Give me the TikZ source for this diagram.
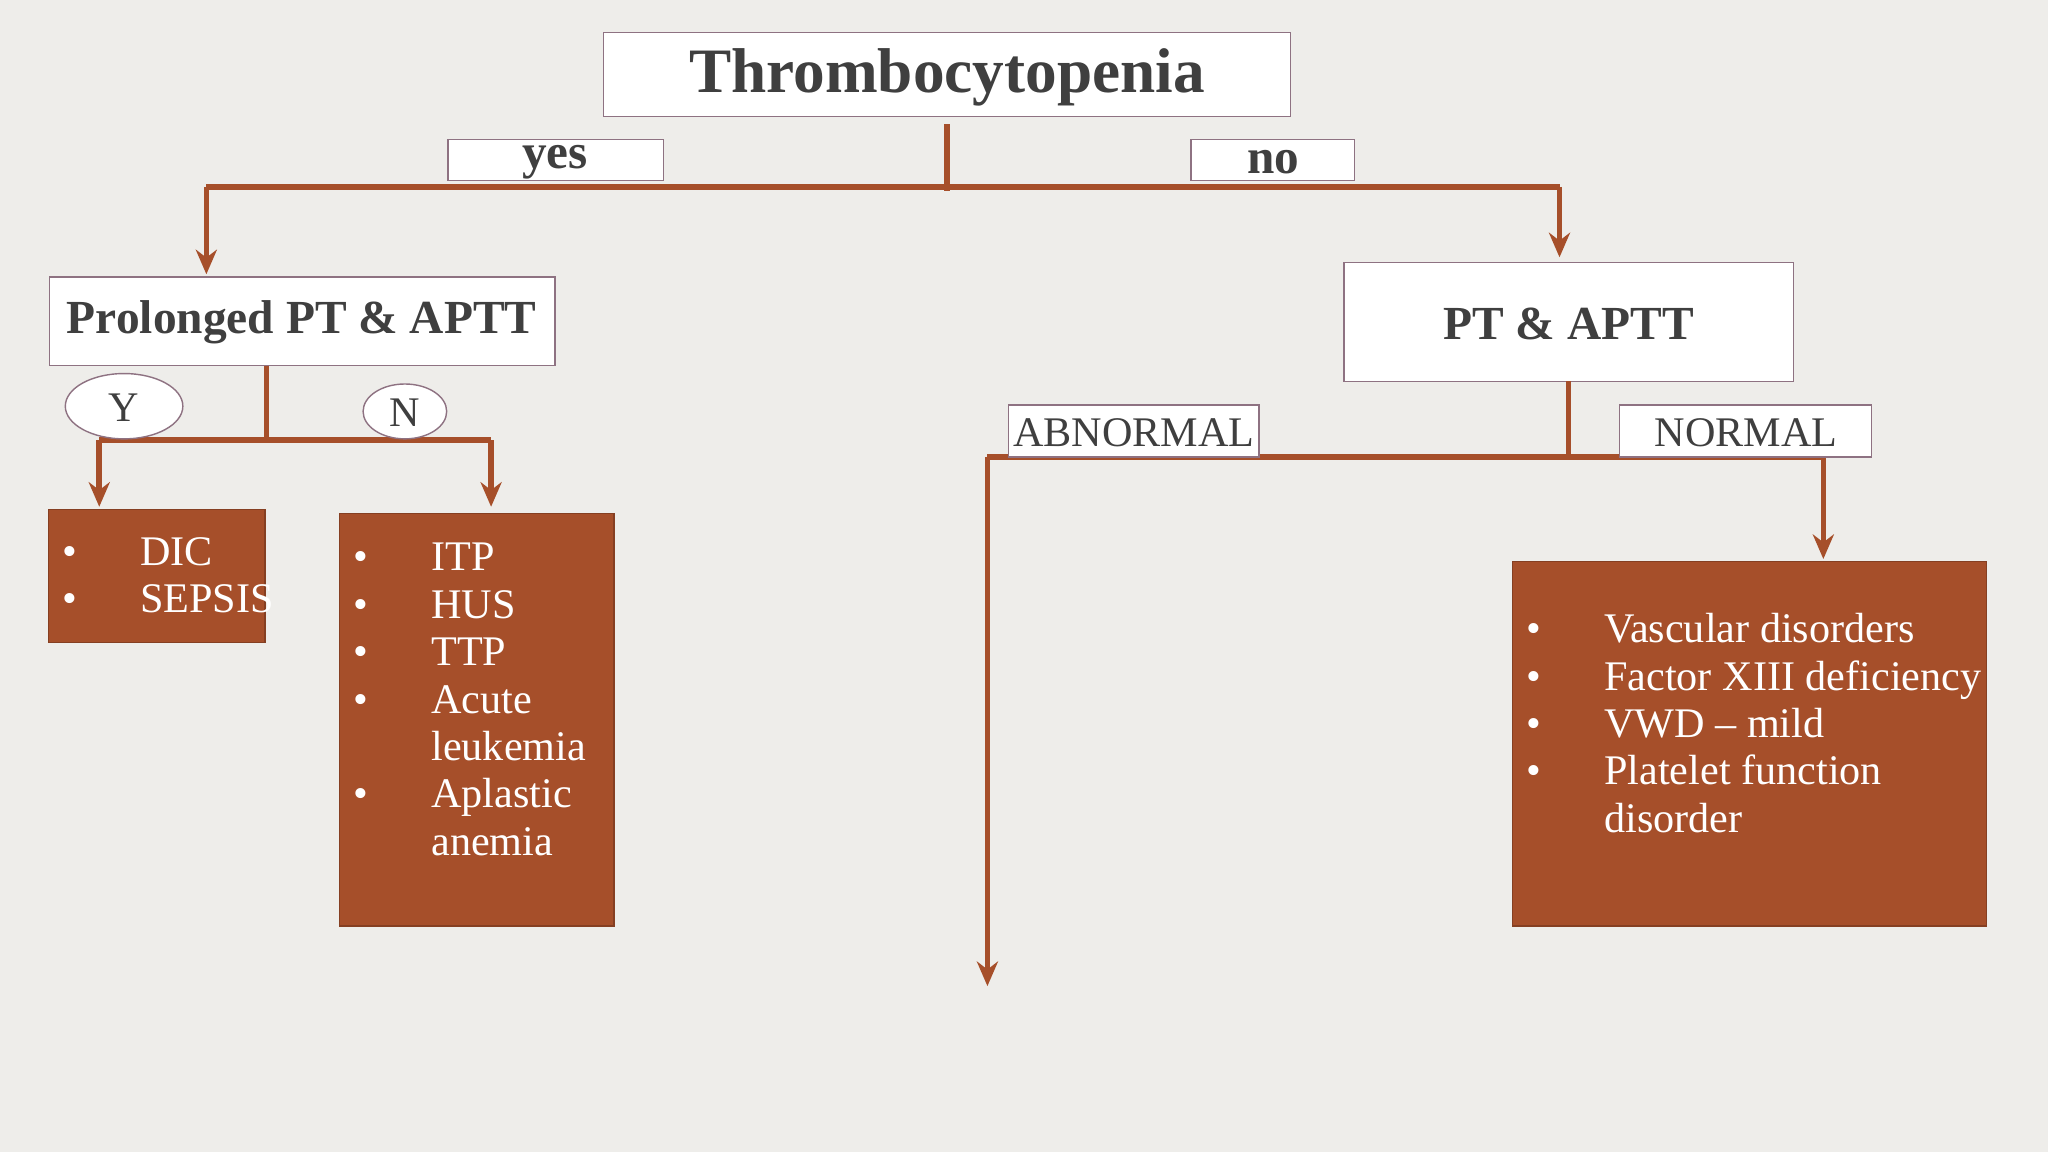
\documentclass[tikz,border=0pt]{standalone}
\usepackage{fontspec}
\setmainfont{Liberation Serif}
\usepackage{xcolor}
\usetikzlibrary{arrows.meta}
\definecolor{rust}{HTML}{A64F2A}
\definecolor{paper}{HTML}{EEEDEA}
\definecolor{frame}{HTML}{8E7282}
\definecolor{ink}{HTML}{3F3F3F}
\tikzset{
  fillbox/.style={draw=rust!80!black, fill=rust, rectangle},
  list/.style={text=white, anchor=north west, inner sep=0pt, font=\fontsize{12}{13.5}\selectfont},
  link/.style={draw=rust, line width=1.6pt},
  arr/.style={link, -{Stealth[length=7pt,width=6pt]}}
}
\newcommand{\bul}{\textbullet}
\begin{document}
\begin{tikzpicture}[x=0.013061cm, y=-0.013061cm]
    \fill[paper] (0,0) rectangle (1568,882);
    % Top
    \draw[frame, fill=white] (462,25) rectangle (988,89);
    \node[text=ink, font=\bfseries\fontsize{18}{20}\selectfont] (ttext) at (725,59) {Thrombocytopenia};
    \draw[frame, fill=white] (343,107) rectangle (508,138);
    \node[text=ink, font=\bfseries\fontsize{14}{16}\selectfont] (yes) at (425,124) {yes};
    \draw[frame, fill=white] (912,107) rectangle (1037,138);
    \node[text=ink, font=\bfseries\fontsize{14}{16}\selectfont] (no) at (975,124) {no};
    \coordinate (top) at (725,95);
    \coordinate (split) at (725,146);
    \coordinate (ltop) at (158,143);
    \coordinate (rtop) at (1194,143);
    % Level 2
    \draw[frame, fill=white] (38,212) rectangle (425,280);
    \node[text=ink, font=\bfseries\fontsize{13.5}{16}\selectfont] (prol) at (231,247) {Prolonged PT \& APTT};
    \draw[frame, fill=white] (1029,201) rectangle (1373,292);
    \node[text=ink, font=\bfseries\fontsize{13.5}{16}\selectfont] (pt) at (1201,248) {PT \& APTT};
    \draw[link] (top) -- (split);
    \draw[link] (ltop) -- (rtop);
    \draw[arr] (ltop) -- (158,210);
    \draw[arr] (rtop) -- (1194,197);
    % Left branch
    \coordinate (lsplit) at (204,337);
    \draw[link] (204,280) -- (lsplit);
    \draw[link] (76,337) -- (376,337);
    \draw[arr] (76,337) -- (76,388);
    \draw[arr] (376,337) -- (376,388);
    \draw[frame, fill=white] (95,311) ellipse [x radius=45, y radius=25];
    \node[text=ink, font=\fontsize{12}{13}\selectfont] (ynode) at (95,312) {Y};
    \draw[frame, fill=white] (310,315) ellipse [x radius=32, y radius=21];
    \node[text=ink, font=\fontsize{12}{13}\selectfont] (nnode) at (310,316) {N};
    \draw[fillbox] (37,390) rectangle (203,492);
    \node[list] (dic) at (47,407) {\begin{tabular}{@{}l@{\hspace{18pt}}l@{}}\bul & DIC\\ \bul & SEPSIS\end{tabular}};
    \draw[fillbox] (260,393) rectangle (470,709);
    \node[list] (itp) at (270,411) {\begin{tabular}{@{}l@{\hspace{18pt}}l@{}}\bul & ITP\\ \bul & HUS\\ \bul & TTP\\ \bul & Acute\\ & leukemia\\ \bul & Aplastic\\ & anemia\end{tabular}};
    % Right branch
    \draw[link] (1201,292) -- (1201,350);
    \draw[link] (756,350) -- (1396,350);
    \draw[arr] (756,350) -- (756,755);
    \draw[arr] (1396,350) -- (1396,428);
    \draw[frame, fill=white] (772,310) rectangle (964,350);
    \node[text=ink, font=\fontsize{12}{13}\selectfont] (abn) at (868,331) {ABNORMAL};
    \draw[frame, fill=white] (1240,310) rectangle (1433,350);
    \node[text=ink, font=\fontsize{12}{13}\selectfont] (nor) at (1337,331) {NORMAL};
    \draw[fillbox] (1158,430) rectangle (1521,709);
    \node[list] (vasc) at (1168,466) {\begin{tabular}{@{}l@{\hspace{18pt}}l@{}}\bul & Vascular disorders\\ \bul & Factor XIII deficiency\\ \bul & VWD -- mild\\ \bul & Platelet function\\ & disorder\end{tabular}};
\end{tikzpicture}
\end{document}
